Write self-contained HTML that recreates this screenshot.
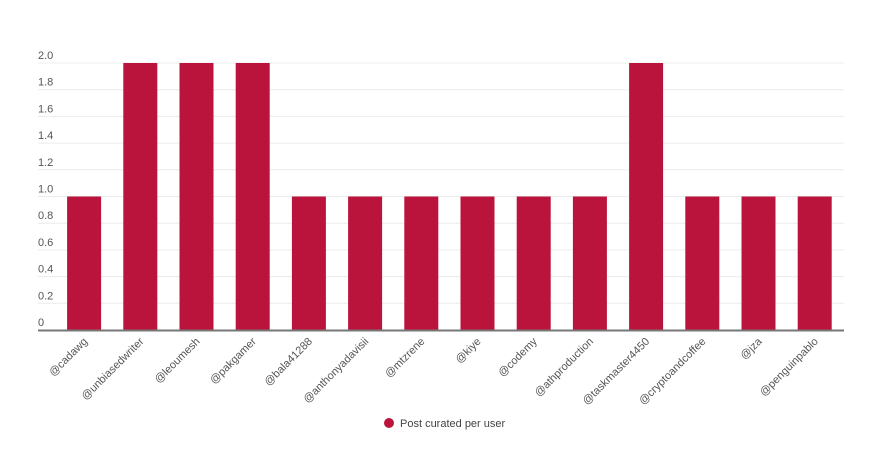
<!DOCTYPE html>
<html><head><meta charset="utf-8"><style>
body{margin:0;background:#fff;}
svg{display:block;font-family:"Liberation Sans",sans-serif;}
</style></head><body>
<svg id="c" width="891" height="459"></svg>
<script>
const categories=["@cadawg","@unbiasedwriter","@leoumesh","@pakgamer","@bala41288","@anthonyadavisii","@mtzrene","@kiye","@codemy","@athproduction","@taskmaster4450","@cryptoandcoffee","@jza","@penguinpablo"];
const values=[1,2,2,2,1,1,1,1,1,1,2,1,1,1];
const tickValues=[0,0.2,0.4,0.6,0.8,1.0,1.2,1.4,1.6,1.8,2.0];
const tickLabels=["0","0.2","0.4","0.6","0.8","1.0","1.2","1.4","1.6","1.8","2.0"];
const seriesName="Post curated per user";
const NS="http://www.w3.org/2000/svg";
const svg=document.getElementById('c');
const x0=56,bw=56.2,barW=34,y0=330,yTop=63,yMax=2;
const yS=v=>y0-(v/yMax)*(y0-yTop);
const xS=i=>x0+i*bw;
function mk(t,a){const e=document.createElementNS(NS,t);for(const k in a)e.setAttribute(k,a[k]);svg.appendChild(e);return e;}
tickValues.forEach((v,i)=>{
  const y=yS(v);
  if(v>0){const g=mk('line',{x1:38,x2:844,y1:y,y2:y,stroke:'#ececec','stroke-width':1});
  
  }
  const t=mk('text',{x:38,y:y-4,'font-size':11,fill:'#555'});
  t.textContent=tickLabels[i];
  
  
});
values.forEach((v,i)=>{
  const r=mk('rect',{x:xS(i)+(bw-barW)/2,y:yS(v),width:barW,height:y0-yS(v),fill:'#bb143c'});
  
  
  const cx=xS(i)+bw/2+4,cy=y0+12;
  const t=mk('text',{x:cx,y:cy,'font-size':11,fill:'#555','text-anchor':'end',transform:`rotate(-45 ${cx} ${cy})`});
  t.textContent=categories[i];
  
  
});
const ax=mk('line',{x1:38,x2:844,y1:y0+0.5,y2:y0+0.5,stroke:'#777','stroke-width':2});


const lc=mk('circle',{cx:389,cy:423,r:5,fill:'#bb143c'});


const lt=mk('text',{x:400,y:427,'font-size':11,fill:'#444'});
lt.textContent=seriesName;


</script>
</body></html>
